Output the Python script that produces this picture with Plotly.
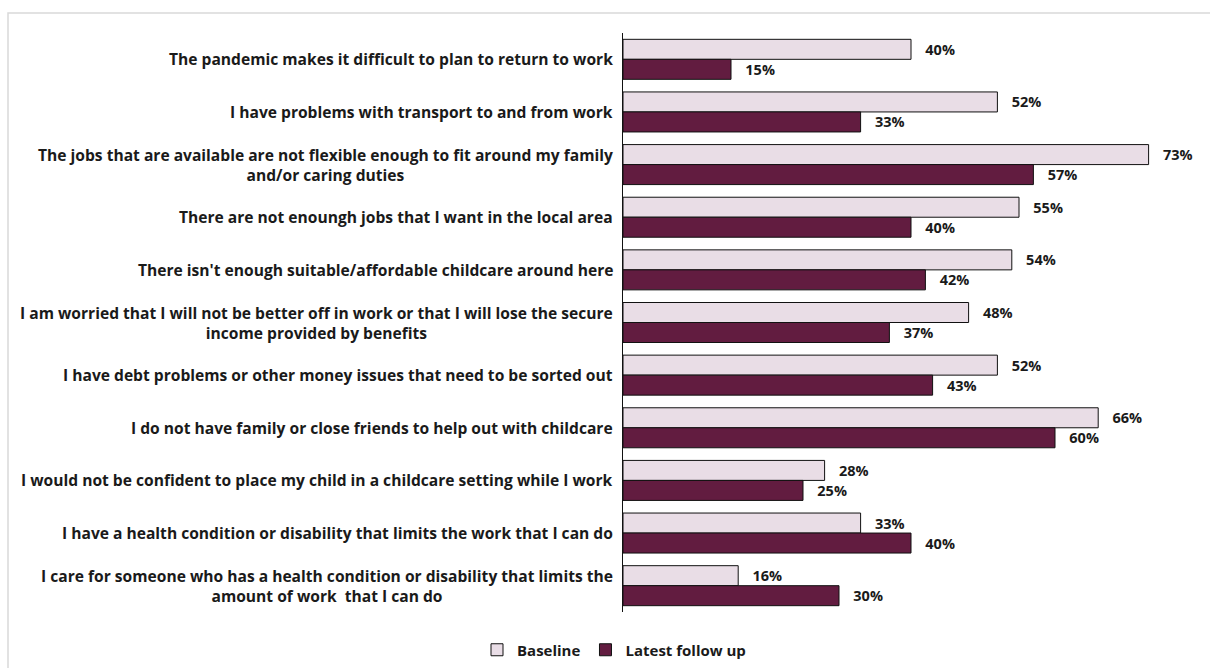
import plotly.graph_objects as go

categories = [
    "The pandemic makes it difficult to plan to return to work",
    "I have problems with transport to and from work",
    "The jobs that are available are not flexible enough to fit around my family<br>and/or caring duties",
    "There are not enounngh jobs that I want in the local area".replace("enounngh", "enoungh"),
    "There isn't enough suitable/affordable childcare around here",
    "I am worried that I will not be better off in work or that I will lose the secure<br>income provided by benefits",
    "I have debt problems or other money issues that need to be sorted out",
    "I do not have family or close friends to help out with childcare",
    "I would not be confident to place my child in a childcare setting while I work",
    "I have a health condition or disability that limits the work that I can do",
    "I care for someone who has a health condition or disability that limits the<br>amount of work  that I can do",
]
baseline = [0.40, 0.52, 0.73, 0.55, 0.54, 0.48, 0.52, 0.66, 0.28, 0.33, 0.16]
latest = [0.15, 0.33, 0.57, 0.40, 0.42, 0.37, 0.43, 0.60, 0.25, 0.40, 0.30]
series_names = ["Baseline", "Latest follow up"]

W, H = 1210, 668
L, R, T, B = 623, 11, 33, 56
pw, ph = W - L - R, H - T - B

FONT = "Open Sans"
TXT = "#1a1a1a"
NB = "\u00a0"
LBL = dict(family=FONT, size=15.6, color=TXT, weight="bold")
VAL = dict(family=FONT, size=14.5, color=TXT, weight="bold")
LEG = dict(family=FONT, size=15, color=TXT, weight="bold")

fig = go.Figure()
fig.add_trace(go.Bar(
    y=categories, x=baseline, name=series_names[0], orientation="h",
    marker=dict(color="#E9DDE6", line=dict(color="#111111", width=1)),
    text=[f"{NB*3}{v:.0%}" for v in baseline], textposition="outside",
    textfont=VAL, cliponaxis=False,
))
fig.add_trace(go.Bar(
    y=categories, x=latest, name=series_names[1], orientation="h",
    marker=dict(color="#621C40", line=dict(color="#111111", width=1)),
    text=[f"{NB*3}{v:.0%}" for v in latest], textposition="outside",
    textfont=VAL, cliponaxis=False,
))

for c in categories:
    fig.add_annotation(
        x=0, y=c, xref="x", yref="y", text=c, showarrow=False,
        xanchor="right", yanchor="middle", align="center", xshift=-8,
        font=LBL,
    )

fig.add_shape(
    type="rect", xref="paper", yref="paper",
    x0=(8 - L) / pw, x1=(1260 - L) / pw,
    y0=(H - B - 720) / ph, y1=(H - B - 13) / ph,
    line=dict(color="#d9d9d9", width=1.5), fillcolor="rgba(0,0,0,0)", layer="below",
)

fig.update_layout(
    width=W, height=H,
    margin=dict(l=L, r=R, t=T, b=B, pad=0, autoexpand=False),
    paper_bgcolor="white", plot_bgcolor="white",
    barmode="group", bargap=0.24, bargroupgap=0,
    font=dict(family=FONT, size=14, color=TXT),
    showlegend=True,
    legend=dict(
        orientation="h", x=(614 - L) / pw, xanchor="center",
        y=(H - B - 650) / ph, yanchor="middle",
        font=LEG, itemwidth=30,
        traceorder="normal",
    ),
    xaxis=dict(range=[0, 0.8], showgrid=False, zeroline=False, showticklabels=False,
               showline=False, fixedrange=True),
    yaxis=dict(autorange="reversed", showgrid=False, zeroline=False, showticklabels=False,
               showline=True, linecolor="#111111", linewidth=1, ticks="", fixedrange=True),
)

fig.write_html("out.html", config={"displayModeBar": False},
               post_script="document.body.style.margin='0';document.body.style.overflow='hidden';")
